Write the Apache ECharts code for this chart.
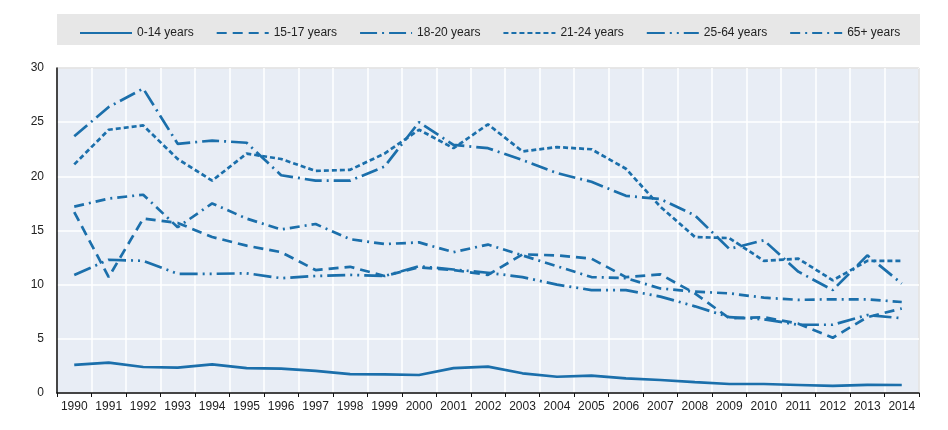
<!DOCTYPE html>
<html>
<head>
<meta charset="utf-8">
<script src="https://cdn.jsdelivr.net/npm/echarts@6/dist/echarts.min.js"></script>
<style>
  html, body { margin: 0; padding: 0; background: #fff; }
  #main { width: 948px; height: 430px; }
</style>
</head>
<body>
<div id="main"></div>
<script>
// years on the x axis
var years = ['1990','1991','1992','1993','1994','1995','1996','1997','1998','1999',
             '2000','2001','2002','2003','2004','2005','2006','2007','2008','2009',
             '2010','2011','2012','2013','2014'];

// values, one array per age group
var age0to14  = [2.6, 2.8, 2.4, 2.35, 2.65, 2.3, 2.25, 2.05, 1.75, 1.72, 1.66, 2.3, 2.43, 1.82, 1.5, 1.6, 1.35, 1.2, 1.0, 0.83, 0.83, 0.74, 0.65, 0.75, 0.74];
var age15to17 = [16.7, 10.7, 16.1, 15.7, 14.4, 13.6, 13.0, 11.35, 11.65, 10.8, 11.6, 11.35, 10.9, 12.8, 12.7, 12.4, 10.7, 10.95, 9.2, 6.9, 7.0, 6.4, 5.1, 7.0, 7.8];
var age18to20 = [23.7, 26.4, 28.1, 23.0, 23.3, 23.1, 20.1, 19.6, 19.6, 20.9, 25.0, 22.9, 22.6, 21.5, 20.3, 19.5, 18.2, 17.9, 16.4, 13.3, 14.1, 11.2, 9.5, 12.7, 10.1];
var age21to24 = [21.1, 24.3, 24.7, 21.6, 19.6, 22.1, 21.6, 20.5, 20.6, 22.1, 24.3, 22.6, 24.8, 22.3, 22.7, 22.5, 20.7, 17.2, 14.4, 14.3, 12.2, 12.4, 10.4, 12.2, 12.2];
var age25to64 = [10.9, 12.3, 12.2, 11.0, 11.0, 11.05, 10.6, 10.8, 10.9, 10.8, 11.7, 11.4, 11.1, 10.7, 10.0, 9.5, 9.5, 8.9, 8.0, 7.0, 6.8, 6.3, 6.3, 7.2, 6.9];
var age65plus = [17.2, 17.95, 18.3, 15.3, 17.5, 16.1, 15.1, 15.6, 14.2, 13.75, 13.9, 13.0, 13.7, 12.7, 11.7, 10.7, 10.6, 9.65, 9.35, 9.2, 8.8, 8.6, 8.65, 8.65, 8.4];

var seriesNames = ['0-14 years', '15-17 years', '18-20 years', '21-24 years', '25-64 years', '65+ years'];

var FONT = "'Liberation Sans', Arial, sans-serif";
var BLUE = '#1b6fab';

function makeLine(name, values, dash) {
  return {
    name: name,
    type: 'line',
    data: values,
    symbol: 'none',
    lineStyle: { color: BLUE, width: 2.7, type: dash },
    itemStyle: { color: BLUE }
  };
}

var myChart = echarts.init(document.getElementById('main'));

var option = {
  animation: false,
  textStyle: { fontFamily: FONT },
  graphic: [
    {
      type: 'rect',
      left: 57, top: 14,
      shape: { width: 863, height: 31 },
      style: { fill: '#e7e7e7' },
      z: -10
    }
  ],
  legend: {
    top: 22,
    left: 74,
    width: 860,
    itemWidth: 52,
    itemHeight: 14,
    itemGap: 22,
    data: seriesNames,
    itemStyle: { opacity: 0 },
    textStyle: { fontFamily: FONT, fontSize: 12, color: '#222' }
  },
  grid: {
    left: 57, right: 29, top: 68, bottom: 37,
    show: true,
    backgroundColor: '#e8edf5',
    borderColor: '#444',
    borderWidth: 1
  },
  xAxis: {
    type: 'category',
    data: years,
    boundaryGap: true,
    axisLine: { lineStyle: { color: '#111', width: 1.5 } },
    axisTick: { show: true, length: 4, lineStyle: { color: '#111' } },
    axisLabel: { fontFamily: FONT, fontSize: 12, color: '#222', margin: 8, interval: 0 },
    splitLine: { show: true, lineStyle: { color: '#ffffff', width: 1.5 } }
  },
  yAxis: {
    type: 'value',
    min: 0, max: 30, interval: 5,
    axisLine: { show: true, lineStyle: { color: '#111', width: 1.5 } },
    axisTick: { show: false },
    axisLabel: { fontFamily: FONT, fontSize: 12, color: '#222', margin: 13 },
    splitLine: { show: true, lineStyle: { color: '#ffffff', width: 1.5 } }
  },
  series: [
    makeLine(seriesNames[0], age0to14, 'solid'),
    makeLine(seriesNames[1], age15to17, [10, 6]),
    makeLine(seriesNames[2], age18to20, [17, 5, 2, 5]),
    makeLine(seriesNames[3], age21to24, [5, 3]),
    makeLine(seriesNames[4], age25to64, [18, 5, 2, 5, 2, 5]),
    makeLine(seriesNames[5], age65plus, [10, 5, 2, 5])
  ]
};

myChart.setOption(option);
</script>
</body>
</html>
